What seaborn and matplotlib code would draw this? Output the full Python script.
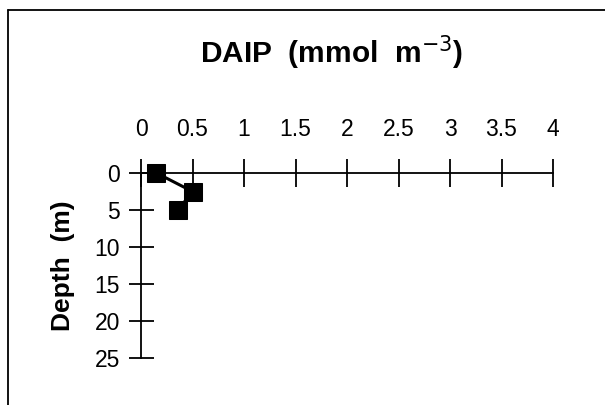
import matplotlib
matplotlib.use("Agg")
import matplotlib.pyplot as plt
import seaborn as sns
import pandas as pd

# values read from the scanned profile
daip = [0.15, 0.5, 0.36]
depth = [0, 2.5, 5]
x_ticks = [0, 0.5, 1, 1.5, 2, 2.5, 3, 3.5, 4]
x_tick_labels = ["0", "0.5", "1", "1.5", "2", "2.5", "3", "3.5", "4"]
y_ticks = [0, 5, 10, 15, 20, 25]

df = pd.DataFrame({"DAIP": daip, "Depth": depth})

sns.set_style("ticks")
plt.rcParams["font.family"] = ["Liberation Sans", "DejaVu Sans"]
plt.rcParams["text.color"] = "black"

fig = plt.figure(figsize=(6.05, 4.05), dpi=100)
ax = fig.add_axes([141 / 605, 1 - 358 / 405, 412 / 605, 185 / 405])

sns.lineplot(data=df, x="DAIP", y="Depth", sort=False, ax=ax, color="black",
             linewidth=2.2, marker="s", markersize=13, markeredgecolor="black",
             markerfacecolor="black", clip_on=False, zorder=5)

ax.set_xlim(0, 4)
ax.set_ylim(25, 0)
ax.set_xticks(x_ticks)
ax.set_xticklabels(x_tick_labels)
ax.set_yticks(y_ticks)
ax.xaxis.tick_top()
ax.set_xlabel("")
ax.set_ylabel("")

for side in ["right", "bottom"]:
    ax.spines[side].set_visible(False)
for side in ["top", "left"]:
    ax.spines[side].set_linewidth(1.3)
    ax.spines[side].set_color("black")

ax.tick_params(axis="x", direction="inout", length=20, width=1.3, pad=13,
               labelsize=16.5, colors="black", labelcolor="black")
ax.tick_params(axis="y", direction="inout", length=18, width=1.3, pad=6,
               labelsize=16.5, colors="black", labelcolor="black")

fig.text(332 / 605, 1 - 63 / 405, r"DAIP  (mmol  m$^{-3}$)", ha="center",
         va="baseline", fontsize=21.5, fontweight="bold", color="black")
fig.text(63 / 605, 1 - 266 / 405, "Depth  (m)", rotation=90, ha="center",
         va="center", fontsize=19, fontweight="bold", color="black")

# scanned page frame (left and top edges)
fig.add_artist(plt.Line2D([8 / 605, 8 / 605], [0, 1 - 10 / 405],
                          color="black", linewidth=1.3))
fig.add_artist(plt.Line2D([8 / 605, 1], [1 - 10 / 405, 1 - 10 / 405],
                          color="black", linewidth=1.3))

fig.savefig("out.png", dpi=100, facecolor="white")
